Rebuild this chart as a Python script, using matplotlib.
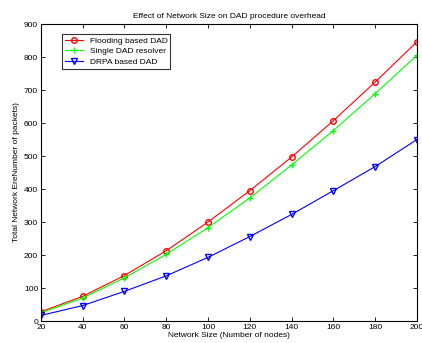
import numpy as np
import matplotlib
matplotlib.use("Agg")
import matplotlib.pyplot as plt

nodes = [20, 40, 60, 80, 100, 120, 140, 160, 180, 200]
flooding = [28, 75, 138, 213, 300, 395, 497, 607, 724, 846]
single = [25, 70, 131, 202, 283, 373, 473, 577, 689, 805]
drpa = [17, 47, 90, 137, 193, 256, 323, 395, 468, 550]

plt.rcParams['font.family'] = ['Liberation Sans', 'DejaVu Sans']
plt.rcParams['font.size'] = 6

fig = plt.figure(figsize=(4.22, 3.43), dpi=100)
ax = fig.add_axes([0.097, 0.064, 0.891, 0.866])

ax.plot(nodes, flooding, color='#ff0000', marker='o', mfc='none', ms=4, lw=0.8, label='Flooding based DAD')
ax.plot(nodes, single, color='#00ff00', marker='+', ms=5, lw=0.8, label='Single DAD resolver')
ax.plot(nodes, drpa, color='#0000ff', marker='v', mfc='none', ms=4, lw=0.8, label='DRPA based DAD')

ax.set_xlim(20, 200)
ax.set_ylim(0, 900)
ax.set_xticks(range(20, 201, 20))
ax.set_yticks(range(0, 901, 100))
ax.tick_params(direction='in', top=True, right=True, length=3, width=0.6, pad=2, labelsize=6)
for s in ax.spines.values():
    s.set_linewidth(0.8)

ax.set_title('Effect of Network Size on DAD procedure overhead', fontsize=6, pad=4)
ax.set_xlabel('Network Size (Number of nodes)', fontsize=6, labelpad=1)
ax.set_ylabel('Total Network EreNumber of packets)', fontsize=6, labelpad=3)

leg = ax.legend(loc='upper left', bbox_to_anchor=(0.055, 0.967), fancybox=False, edgecolor='black',
                fontsize=6, borderpad=0.35, labelspacing=0.35, handlelength=2.2, borderaxespad=0)
leg.get_frame().set_linewidth(0.8)

fig.savefig('out.png', dpi=100)
